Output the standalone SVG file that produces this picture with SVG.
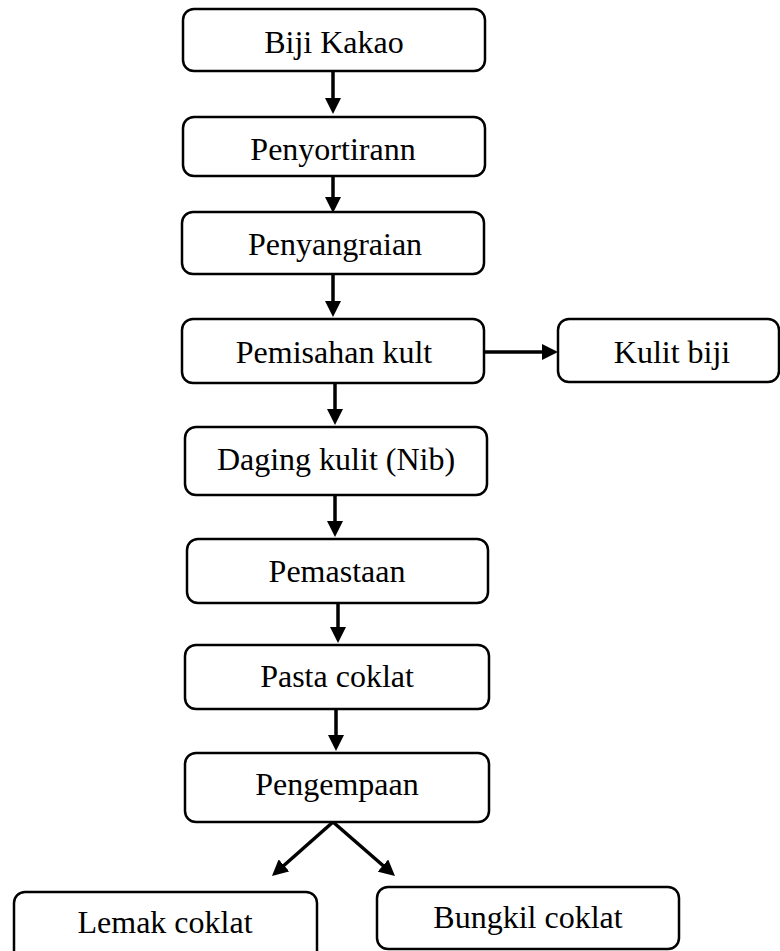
<svg xmlns="http://www.w3.org/2000/svg" width="780" height="951" viewBox="0 0 780 951">
<style>
  .box { fill: #ffffff; stroke: #000000; stroke-width: 2.5; }
  .lbl { font-family: "Liberation Serif", "Times New Roman", serif; font-size: 32px; fill: #000000; text-anchor: middle; }
  .conn { stroke: #000000; stroke-width: 3.5; fill: none; marker-end: url(#ah); }
</style>
<defs>
  <marker id="ah" viewBox="0 0 16 16" refX="5" refY="8" markerWidth="16" markerHeight="16" markerUnits="userSpaceOnUse" orient="auto">
    <path d="M0,0 L16,8 L0,16 z" fill="#000000"/>
  </marker>
</defs>
<rect width="780" height="951" fill="#ffffff"/>
<g id="connectors">
  <line class="conn" x1="333" y1="71" x2="333" y2="103"/>
  <line class="conn" x1="333" y1="176" x2="333" y2="202"/>
  <line class="conn" x1="333" y1="274" x2="333" y2="306"/>
  <line class="conn" x1="484" y1="352" x2="547" y2="352"/>
  <line class="conn" x1="335" y1="383" x2="335" y2="414"/>
  <line class="conn" x1="335" y1="495" x2="335" y2="526"/>
  <line class="conn" x1="338" y1="603" x2="338" y2="632"/>
  <line class="conn" x1="336" y1="709" x2="336" y2="740"/>
  <line class="conn" x1="333" y1="822" x2="280.2" y2="868.7"/>
  <line class="conn" x1="333" y1="822" x2="386.7" y2="868.8"/>
</g>
<g id="node-biji-kakao">
  <rect class="box" x="183" y="9" width="302" height="62" rx="11"/>
  <text class="lbl" x="334" y="53">Biji Kakao</text>
</g>
<g id="node-penyortirann">
  <rect class="box" x="183" y="117" width="302" height="59" rx="11"/>
  <text class="lbl" x="333" y="160">Penyortirann</text>
</g>
<g id="node-penyangraian">
  <rect class="box" x="182" y="212" width="302" height="62" rx="11"/>
  <text class="lbl" x="335" y="255">Penyangraian</text>
</g>
<g id="node-pemisahan">
  <rect class="box" x="182" y="319" width="302" height="64" rx="11"/>
  <text class="lbl" x="334" y="363">Pemisahan kult</text>
</g>
<g id="node-kulit-biji">
  <rect class="box" x="558" y="319" width="221" height="63" rx="11"/>
  <text class="lbl" x="672" y="363">Kulit biji</text>
</g>
<g id="node-daging">
  <rect class="box" x="185" y="427" width="302" height="68" rx="11"/>
  <text class="lbl" x="336" y="470">Daging kulit (Nib)</text>
</g>
<g id="node-pemastaan">
  <rect class="box" x="187" y="539" width="301" height="64" rx="11"/>
  <text class="lbl" x="337" y="582">Pemastaan</text>
</g>
<g id="node-pasta">
  <rect class="box" x="185" y="645" width="304" height="64" rx="11"/>
  <text class="lbl" x="337" y="687">Pasta coklat</text>
</g>
<g id="node-pengempaan">
  <rect class="box" x="185" y="753" width="304" height="69" rx="11"/>
  <text class="lbl" x="337" y="795">Pengempaan</text>
</g>
<g id="node-lemak">
  <rect class="box" x="14" y="892" width="303" height="70" rx="11"/>
  <text class="lbl" x="165" y="933">Lemak coklat</text>
</g>
<g id="node-bungkil">
  <rect class="box" x="377" y="887" width="302" height="62" rx="11"/>
  <text class="lbl" x="528" y="928">Bungkil coklat</text>
</g>
</svg>
